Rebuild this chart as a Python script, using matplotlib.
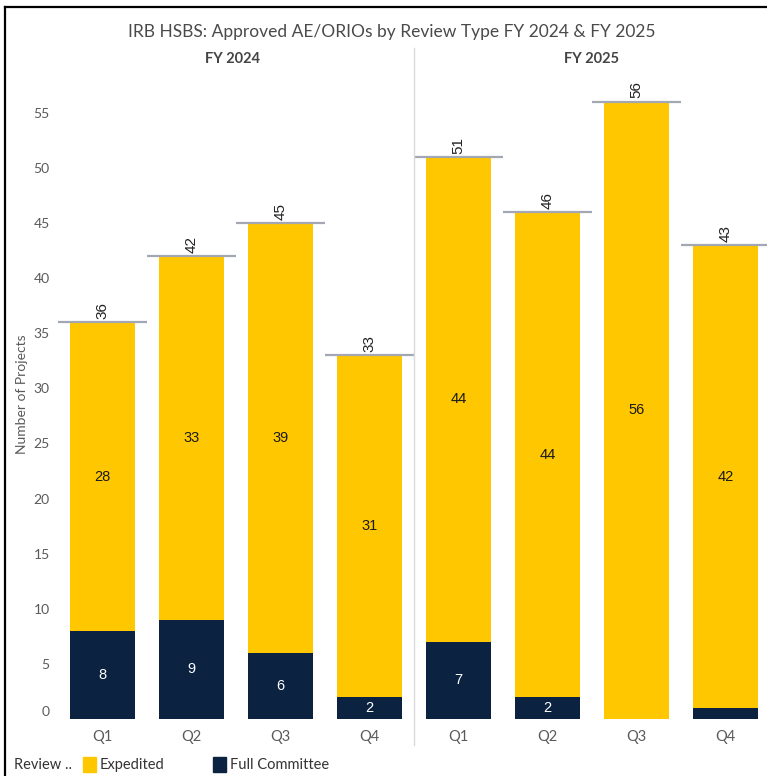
import matplotlib
matplotlib.use("Agg")
import matplotlib.pyplot as plt
import matplotlib.transforms as mtransforms
from matplotlib.patches import Rectangle
from matplotlib.lines import Line2D

# ---- data ----
quarters = ["Q1", "Q2", "Q3", "Q4"]
fiscal_years = ["FY 2024", "FY 2025"]
full_committee_2024 = [8, 9, 6, 2]
expedited_2024 = [28, 33, 39, 31]
full_committee_2025 = [7, 2, 0, 1]
expedited_2025 = [44, 44, 56, 42]
y_ticks = [0, 5, 10, 15, 20, 25, 30, 35, 40, 45, 50, 55]

GOLD = "#FFC700"
NAVY = "#0B2341"
REF = "#A3A7B3"
GRAY_TXT = "#5A5A5A"

plt.rcParams['font.family'] = ['Lato', 'DejaVu Sans']

W, H = 767, 776
fig = plt.figure(figsize=(W / 100, H / 100), dpi=100)

def fx(px):
    return px / W

def fy(py):
    return 1 - py / H

ax_bottom_px, ax_top_px = 719, 48
px_per_unit = 11.02
ymax = (ax_bottom_px - ax_top_px) / px_per_unit

panels = [
    (58, full_committee_2024, expedited_2024),
    (414, full_committee_2025, expedited_2025),
]

axes = []
for left_px, fc, ex in panels:
    ax = fig.add_axes([fx(left_px), fy(ax_bottom_px), 356 / W,
                       (ax_bottom_px - ax_top_px) / H])
    axes.append(ax)
    x = list(range(len(quarters)))
    ax.bar(x, fc, width=0.74, color=NAVY, zorder=2)
    ax.bar(x, ex, width=0.74, bottom=fc, color=GOLD, zorder=2)
    totals = [a + b for a, b in zip(fc, ex)]
    for i in x:
        t = totals[i]
        ax.hlines(t, i - 0.5, i + 0.5, color=REF, lw=1.6, zorder=3)
        ax.annotate(str(t), (i, t), xytext=(0, 2.5), textcoords="offset points",
                    rotation=90, ha="center", va="bottom", fontsize=11,
                    family="Liberation Sans", color="#222222")
        if ex[i] >= 3:
            ax.text(i, fc[i] + ex[i] / 2, str(ex[i]), ha="center", va="center",
                    fontsize=10.5, family="Liberation Sans", color="#1a1a1a", zorder=4)
        if fc[i] >= 2:
            ax.text(i, fc[i] / 2, str(fc[i]), ha="center", va="center",
                    fontsize=10.5, family="Liberation Sans", color="white", zorder=4)
    ax.set_xlim(-0.5, 3.5)
    ax.set_ylim(0, ymax)
    ax.set_xticks(x)
    ax.set_xticklabels(quarters, fontsize=10.5, color=GRAY_TXT)
    ax.tick_params(axis="x", length=0, pad=8)
    for s in ax.spines.values():
        s.set_visible(False)
    ax.patch.set_alpha(0)

ax1, ax2 = axes
ax1.set_yticks(y_ticks)
ax1.set_yticklabels([str(v) for v in y_ticks], fontsize=10, color=GRAY_TXT)
ax1.tick_params(axis="y", length=0, pad=6)
# zero label sits slightly higher in the reference
lbl0 = ax1.get_yticklabels()[0]
lbl0.set_transform(lbl0.get_transform() +
                   mtransforms.ScaledTranslation(0, 8 / 100, fig.dpi_scale_trans))
ax2.set_yticks([])

# titles and headers
fig.text(fx(392), fy(32), "IRB HSBS: Approved AE/ORIOs by Review Type FY 2024 & FY 2025",
         ha="center", va="center", fontsize=12.5, color="#4A4A4A")
fig.text(fx(232), fy(59), fiscal_years[0], ha="center", va="center",
         fontsize=10.5, fontweight="bold", color="#444444")
fig.text(fx(591), fy(59), fiscal_years[1], ha="center", va="center",
         fontsize=10.5, fontweight="bold", color="#444444")
fig.text(fx(22), fy(394), "Number of Projects", rotation=90, ha="center",
         va="center", fontsize=10, color=GRAY_TXT)

# divider
fig.add_artist(Line2D([fx(414), fx(414)], [fy(48), fy(745)], color="#DADADA", lw=1))

# legend
fig.text(fx(14), fy(765), "Review ..", ha="left", va="center", fontsize=10.5, color="#333333")
fig.add_artist(Rectangle((fx(83), fy(772)), 13 / W, 15 / H, color=GOLD, transform=fig.transFigure))
fig.text(fx(100), fy(765), "Expedited", ha="left", va="center", fontsize=10.5, color="#333333")
fig.add_artist(Rectangle((fx(213), fy(772)), 13 / W, 15 / H, color=NAVY, transform=fig.transFigure))
fig.text(fx(230), fy(765), "Full Committee", ha="left", va="center", fontsize=10.5, color="#333333")

# border (top and left)
fig.add_artist(Line2D([fx(5), fx(5)], [fy(7), 0], color="black", lw=1.6))
fig.add_artist(Line2D([fx(5), 1], [fy(7), fy(7)], color="black", lw=1.6))

fig.savefig("out.png", dpi=100)
